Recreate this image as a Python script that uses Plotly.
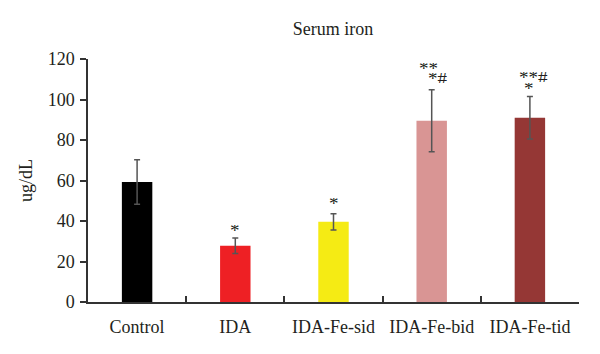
import plotly.graph_objects as go

categories = ["Control", "IDA", "IDA-Fe-sid", "IDA-Fe-bid", "IDA-Fe-tid"]
values = [59.3, 27.8, 39.6, 89.5, 91.0]
errors = [11.0, 3.8, 4.0, 15.3, 10.5]
colors = ["#000000", "#EE2024", "#F5EB14", "#D99594", "#953735"]

# significance marks: (category, text, y value, x shift px)
marks_cat = ["IDA", "IDA-Fe-sid", "IDA-Fe-bid", "IDA-Fe-bid", "IDA-Fe-tid", "IDA-Fe-tid"]
marks_text = ["*", "*", "**", "*#", "**#", "*"]
marks_y = [35.5, 48.7, 115.6, 110.6, 111.0, 105.6]
marks_dx = [0, 0, -3, 6, 4, -1]

font_family = "Liberation Serif"
txt = "#231F20"

fig = go.Figure()
fig.add_trace(go.Bar(
    x=categories, y=values,
    marker=dict(color=colors, line=dict(width=0)),
    width=0.31,
    error_y=dict(type="data", array=errors, visible=True,
                 color="#555555", thickness=1.5, width=3),
))

for c, t, yv, dx in zip(marks_cat, marks_text, marks_y, marks_dx):
    fig.add_annotation(x=c, y=yv, text=t, showarrow=False, xshift=dx,
                       font=dict(family=font_family, size=19, color=txt),
                       yanchor="middle", height=10)

fig.update_layout(
    width=600, height=354,
    margin=dict(l=88, r=21, t=59, b=52),
    paper_bgcolor="white", plot_bgcolor="white",
    showlegend=False,
    font=dict(family=font_family, size=18, color=txt),
    title=dict(text="Serum iron", x=0.555, xanchor="center", y=0.92, yanchor="middle",
               font=dict(family=font_family, size=18, color=txt)),
)
fig.update_xaxes(
    showline=True, linecolor="#333", linewidth=1.5,
    ticks="inside", tickson="boundaries", ticklen=6, tickcolor="#333", tickwidth=1.5,
    showgrid=False, tickfont=dict(size=18, color=txt), ticklabelstandoff=8,
)
fig.update_yaxes(
    range=[0, 120], dtick=20, showline=True, linecolor="#333", linewidth=1.5,
    ticks="outside", ticklen=6, tickcolor="#333", tickwidth=1.5,
    showgrid=False, zeroline=False, tickfont=dict(size=18, color=txt),
    ticklabelstandoff=2,
    title=dict(text="ug/dL", font=dict(size=18, color=txt), standoff=10),
)

fig.write_html("out.html")
